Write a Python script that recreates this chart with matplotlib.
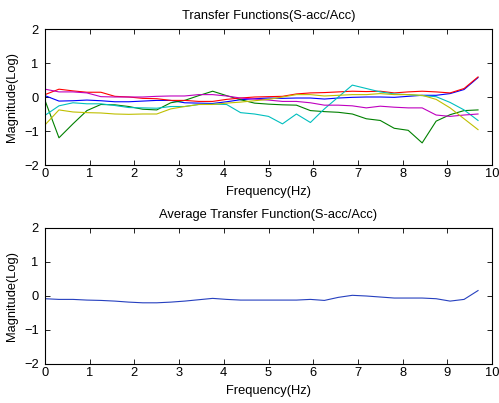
import numpy as np
import matplotlib
matplotlib.use('Agg')
from matplotlib import pyplot as plt

plt.rcParams['font.family'] = ['Liberation Sans', 'DejaVu Sans']
plt.rcParams['font.size'] = 9.3

# Frequency grid (Hz)
freq = [0, 0.3125, 0.625, 0.9375, 1.25, 1.5625, 1.875, 2.1875, 2.5, 2.8125,
        3.125, 3.4375, 3.75, 4.0625, 4.375, 4.6875, 5.0, 5.3125, 5.625, 5.9375,
        6.25, 6.5625, 6.875, 7.1875, 7.5, 7.8125, 8.125, 8.4375, 8.75, 9.0625,
        9.375, 9.6875]

# Individual transfer functions (log magnitude)
tf_blue = [0.04, -0.12, -0.11, -0.09, -0.11, -0.14, -0.14, -0.12, -0.10, -0.10,
           -0.17, -0.18, -0.19, -0.14, -0.08, -0.05, -0.03, -0.04, -0.03, -0.03,
           -0.06, -0.03, -0.01, 0.0, 0.0, -0.01, 0.02, 0.05, 0.05, 0.10,
           0.22, 0.57]
tf_green = [-0.10, -1.20, -0.79, -0.40, -0.22, -0.23, -0.28, -0.36, -0.38, -0.17,
            -0.10, 0.04, 0.17, 0.04, -0.08, -0.18, -0.21, -0.23, -0.24, -0.40,
            -0.43, -0.45, -0.50, -0.64, -0.69, -0.92, -0.98, -1.35, -0.71, -0.52,
            -0.40, -0.38]
tf_red = [0.07, 0.23, 0.18, 0.14, 0.14, 0.02, 0.0, -0.04, -0.05, -0.10,
          -0.10, -0.13, -0.13, -0.07, -0.03, 0.0, 0.01, 0.02, 0.09, 0.12,
          0.13, 0.15, 0.17, 0.16, 0.17, 0.12, 0.15, 0.17, 0.15, 0.12,
          0.25, 0.59]
tf_cyan = [-0.54, -0.26, -0.17, -0.20, -0.20, -0.25, -0.31, -0.32, -0.33, -0.28,
           -0.28, -0.22, -0.21, -0.22, -0.46, -0.50, -0.57, -0.79, -0.50, -0.75,
           -0.35, 0.0, 0.35, 0.25, 0.15, 0.09, 0.07, 0.04, 0.01, -0.16,
           -0.38, -0.69]
tf_magenta = [0.23, 0.15, 0.15, 0.12, 0.01, 0.0, 0.0, 0.0, 0.02, 0.03,
              0.03, 0.07, 0.07, 0.03, -0.03, -0.06, -0.09, -0.13, -0.13, -0.17,
              -0.24, -0.24, -0.26, -0.32, -0.27, -0.30, -0.32, -0.32, -0.53, -0.57,
              -0.53, -0.50]
tf_yellow = [-0.82, -0.38, -0.44, -0.46, -0.47, -0.50, -0.51, -0.50, -0.50, -0.35,
             -0.28, -0.22, -0.22, -0.18, -0.15, -0.11, -0.07, 0.0, 0.07, 0.07,
             0.03, 0.05, 0.07, 0.07, 0.10, 0.07, 0.07, 0.05, -0.07, -0.32,
             -0.64, -0.96]

# Average transfer function
tf_avg = [-0.08, -0.10, -0.10, -0.12, -0.13, -0.15, -0.18, -0.20, -0.20, -0.18,
          -0.15, -0.11, -0.07, -0.10, -0.12, -0.12, -0.12, -0.12, -0.12, -0.10,
          -0.13, -0.04, 0.02, 0.0, -0.03, -0.06, -0.06, -0.06, -0.08, -0.15,
          -0.10, 0.16]

series = [tf_blue, tf_green, tf_red, tf_cyan, tf_magenta, tf_yellow]
colors = [(0, 0, 1), (0, 0.5, 0), (1, 0, 0), (0, 0.75, 0.75),
          (0.75, 0, 0.75), (0.75, 0.75, 0)]

W, H = 499, 403
fig = plt.figure(figsize=(W / 100, H / 100), dpi=100)


def make_axes(left, top, right, bottom):
    return fig.add_axes([left / W, 1 - bottom / H, (right - left) / W, (bottom - top) / H])


def style(ax, title):
    ax.set_xlim(0, 10)
    ax.set_ylim(-2, 2)
    ax.set_xticks(range(0, 11))
    ax.set_yticks([-2, -1, 0, 1, 2])
    ax.tick_params(direction='in', top=True, right=True, length=3.5, width=0.6,
                   labelsize=9.3)
    ax.tick_params(axis='x', pad=2.5)
    ax.tick_params(axis='y', pad=4.5)
    for s in ax.spines.values():
        s.set_linewidth(0.8)
    ax.set_title(title, fontsize=9.3, pad=7)
    ax.set_xlabel('Frequency(Hz)', fontsize=9.3, labelpad=4)
    ax.set_ylabel('Magnitude(Log)', fontsize=9.3, labelpad=4)


ax1 = make_axes(45, 29, 492, 165)
for vals, c in zip(series, colors):
    ax1.plot(freq, vals, color=c, lw=0.8)
style(ax1, 'Transfer Functions(S-acc/Acc)')

ax2 = make_axes(45, 228, 492, 364)
ax2.plot(freq, tf_avg, color=(0.15, 0.25, 0.75), lw=0.8)
style(ax2, 'Average Transfer Function(S-acc/Acc)')

fig.savefig('out.png', dpi=100)
